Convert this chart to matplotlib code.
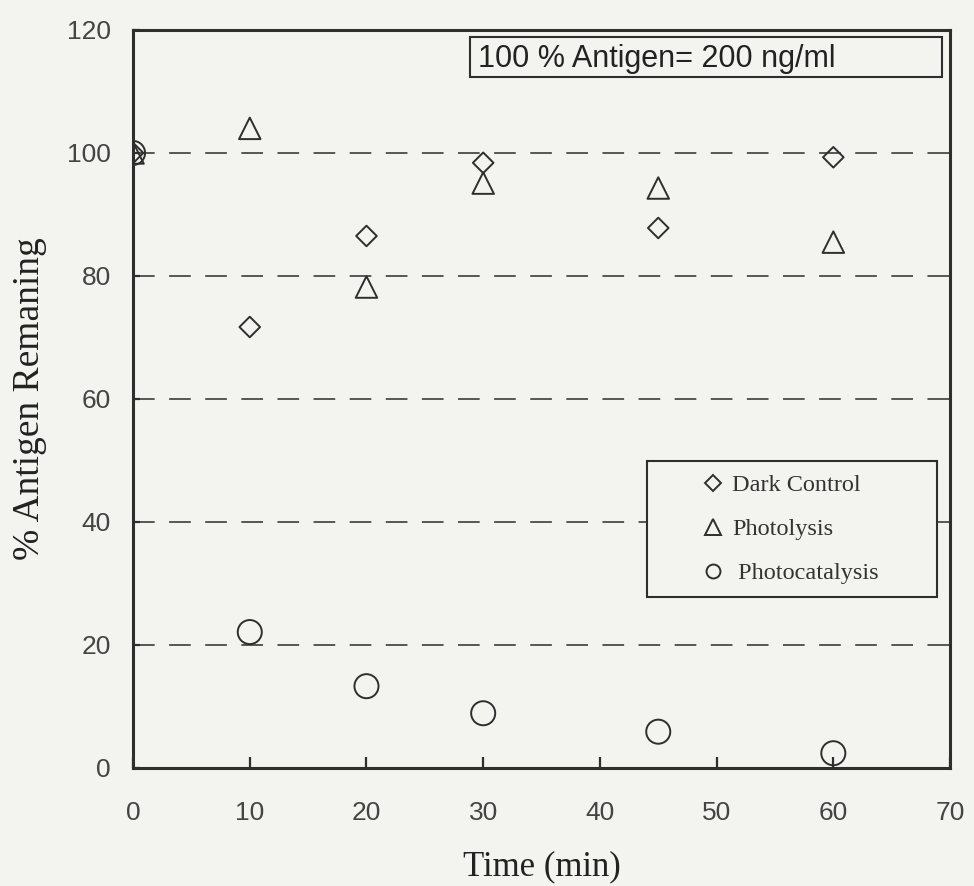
import numpy as np
import matplotlib.pyplot as plt
from matplotlib.lines import Line2D
from matplotlib.patches import Rectangle

# time points (min)
time = [0, 10, 20, 30, 45, 60]

# % antigen remaining
dark_control = [100, 71.7, 86.5, 98.4, 87.8, 99.3]
photolysis = [100, 104.0, 78.2, 95.1, 94.3, 85.5]
photocatalysis = [100, 22.1, 13.3, 8.9, 5.9, 2.4]

labels = ['Dark Control', 'Photolysis', ' Photocatalysis']
note = '100 % Antigen= 200 ng/ml'

bg = '#f3f3f0'
ink = '#2e2e2e'

fig = plt.figure(figsize=(9.74, 8.86), dpi=100, facecolor=bg)
ax = fig.add_axes([0.1366, 0.1332, 0.8388, 0.8330])
ax.set_facecolor(bg)

# dashed reference lines
for y in [20, 40, 60, 80, 100]:
    ax.axhline(y, color='#4a4a4a', lw=1.3, ls=(0, (12, 8)), zorder=1)

ax.scatter(time, dark_control, marker='D', s=110, facecolors='none',
           edgecolors=ink, linewidths=1.4, zorder=3)
ax.scatter(time, photolysis, marker='^', s=240, facecolors='none',
           edgecolors=ink, linewidths=1.4, zorder=3)
ax.scatter(time, photocatalysis, marker='o', s=300, facecolors='none',
           edgecolors=ink, linewidths=1.4, zorder=3)

ax.set_xlim(0, 70)
ax.set_ylim(0, 120)
ax.set_xticks(np.arange(0, 71, 10))
ax.set_yticks(np.arange(0, 121, 20))
ax.tick_params(axis='x', direction='in', length=8, width=1.6, colors=ink,
               labelsize=19, pad=24)
ax.tick_params(axis='y', direction='in', length=5, width=1.6, colors=ink,
               labelsize=19, pad=16)
for lab in ax.get_xticklabels() + ax.get_yticklabels():
    lab.set_family('Liberation Sans')
    lab.set_color('#444444')
for sp in ax.spines.values():
    sp.set_linewidth(2.2)
    sp.set_color(ink)

ax.set_xlabel('Time (min)', family='Liberation Serif', fontsize=25,
              color='#222222', labelpad=18)
ax.set_ylabel('% Antigen Remaning', family='Liberation Serif', fontsize=27,
              color='#222222', labelpad=14)

# note box at the top
ax.add_patch(Rectangle((0.4125, 0.936), 0.5775, 0.0545, transform=ax.transAxes,
                       fc=bg, ec=ink, lw=1.5, zorder=4))
ax.text(0.422, 0.961, note, transform=ax.transAxes,
        family='Liberation Sans', fontsize=22, color='#222222',
        va='center', ha='left', zorder=5)

handles = [
    Line2D([], [], marker='D', ls='none', mfc='none', mec=ink, ms=8, mew=1.4),
    Line2D([], [], marker='^', ls='none', mfc='none', mec=ink, ms=11, mew=1.4),
    Line2D([], [], marker='o', ls='none', mfc='none', mec=ink, ms=10, mew=1.4),
]
leg = ax.legend(handles, labels, loc='upper left',
                bbox_to_anchor=(0.629, 0.236, 0.355, 0.18), mode='expand',
                prop={'family': 'Liberation Serif', 'size': 17.5},
                frameon=True, fancybox=False, framealpha=1,
                handlelength=4.33, handletextpad=-1.37,
                borderpad=0.55, labelspacing=0.9, borderaxespad=0)
leg.get_frame().set_edgecolor(ink)
leg.get_frame().set_facecolor(bg)
leg.get_frame().set_linewidth(1.5)
for t in leg.get_texts():
    t.set_color('#333333')

fig.savefig('out.png', dpi=100, facecolor=bg)
